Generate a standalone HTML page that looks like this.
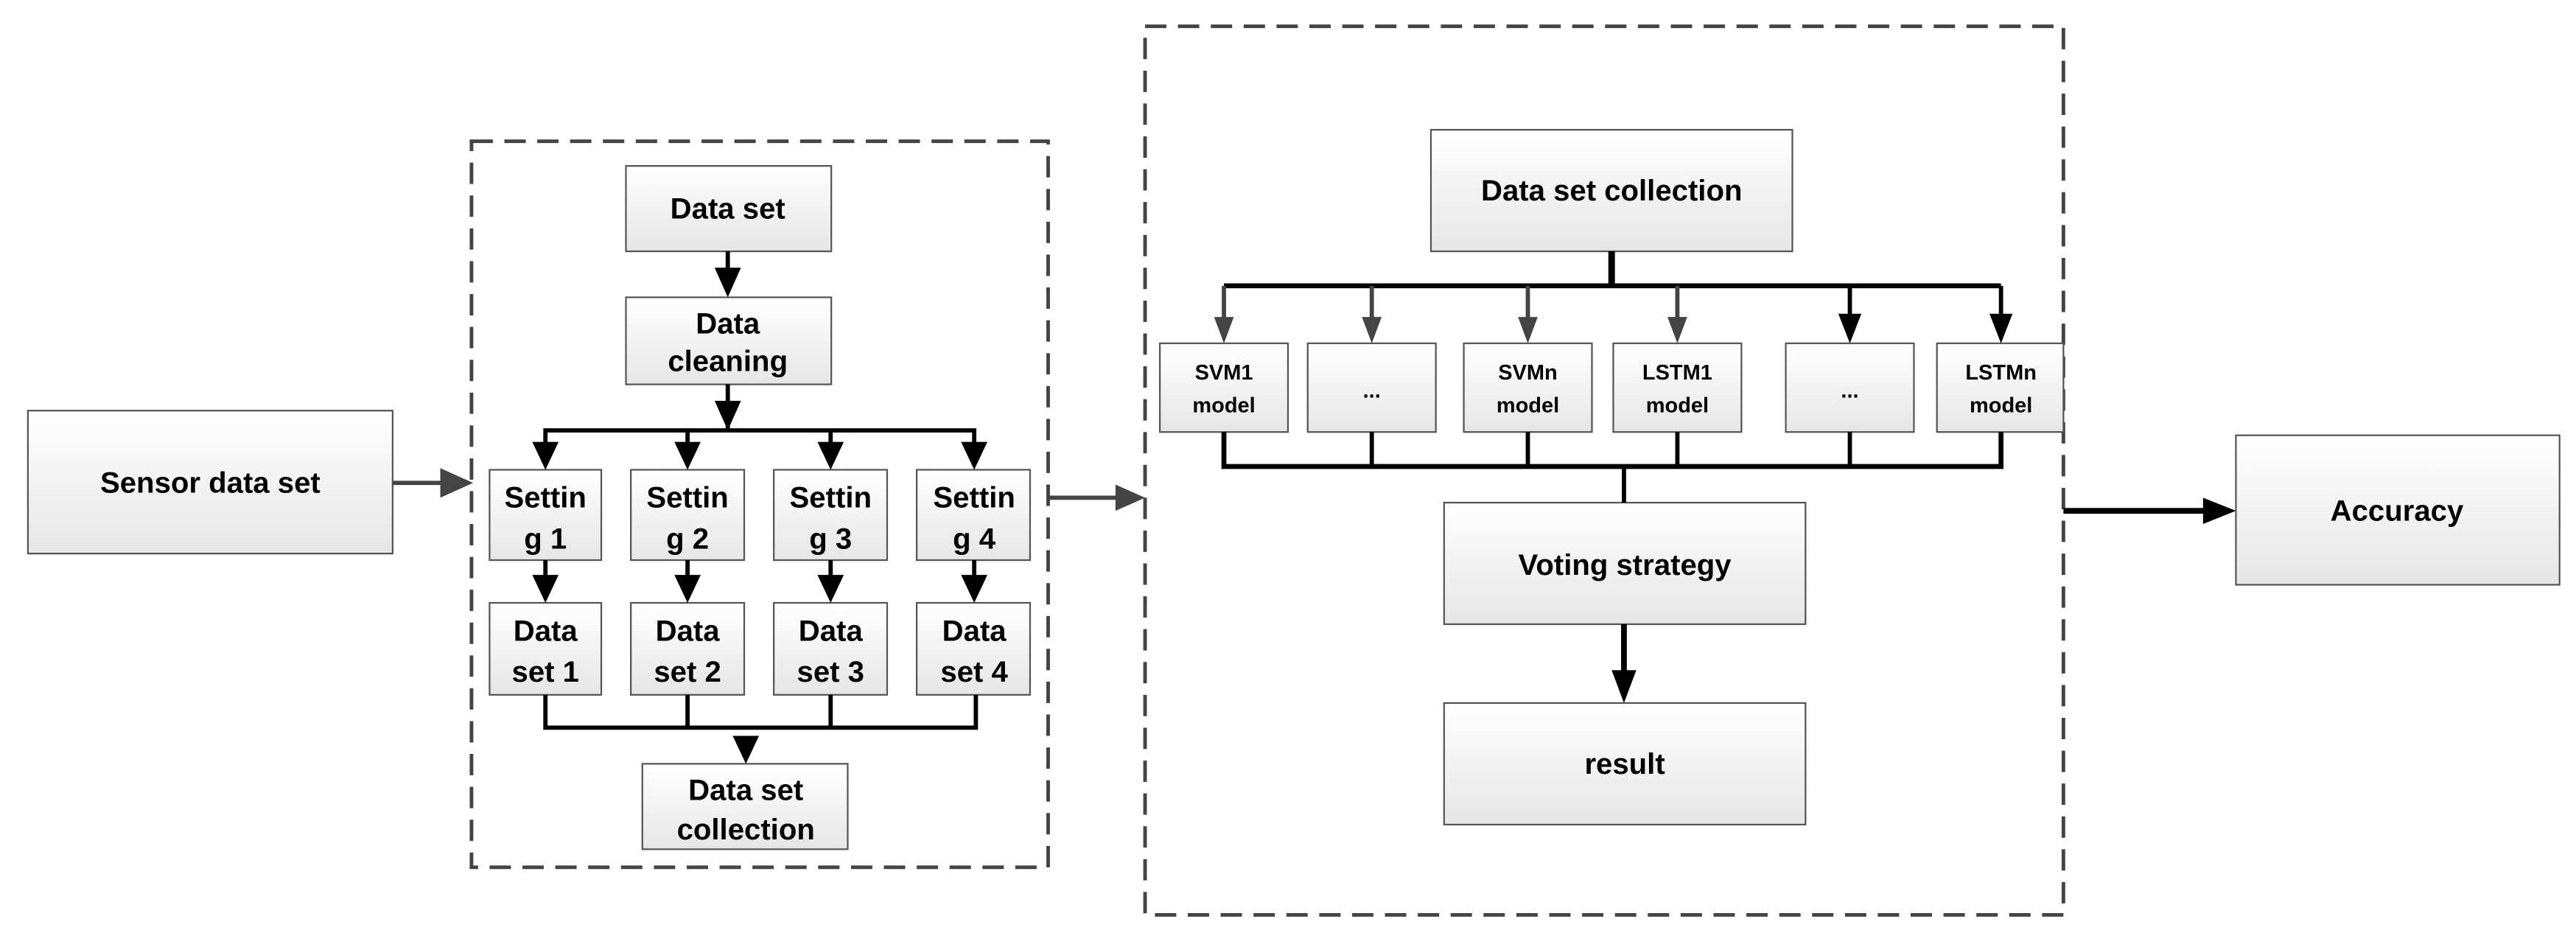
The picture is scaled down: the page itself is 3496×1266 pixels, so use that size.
<!DOCTYPE html>
<html><head><meta charset="utf-8"><style>
html,body{margin:0;padding:0;background:#fff;}
svg{display:block;}
text{font-family:"Liberation Sans Narrow","Liberation Sans",sans-serif;font-weight:bold;fill:#000;text-anchor:middle;}
</style></head><body>
<svg width="3496" height="1266" viewBox="0 0 1568 568" preserveAspectRatio="none" xmlns="http://www.w3.org/2000/svg">
<defs>
<linearGradient id="g" x1="0" y1="0" x2="0" y2="1"><stop offset="0" stop-color="#ffffff"/><stop offset="1" stop-color="#e6e6e6"/></linearGradient>
</defs>
<g fill="none" stroke="#444" stroke-width="2.2" stroke-dasharray="13,7">
<rect x="287" y="86" width="351" height="442"/>
<rect x="697" y="16" width="559" height="541"/>
</g>
<g fill="url(#g)" stroke="#555" stroke-width="1">
<rect x="17" y="250" width="222" height="87"/>
<rect x="381" y="101" width="125" height="52"/>
<rect x="381" y="181" width="125" height="53"/>
<rect x="298" y="286" width="68" height="55"/>
<rect x="384" y="286" width="69" height="55"/>
<rect x="471" y="286" width="69" height="55"/>
<rect x="558" y="286" width="69" height="55"/>
<rect x="298" y="367" width="68" height="56"/>
<rect x="384" y="367" width="69" height="56"/>
<rect x="471" y="367" width="69" height="56"/>
<rect x="558" y="367" width="69" height="56"/>
<rect x="391" y="465" width="125" height="52"/>
<rect x="871" y="79" width="220" height="74"/>
<rect x="706" y="209" width="78" height="54"/>
<rect x="796" y="209" width="78" height="54"/>
<rect x="891" y="209" width="78" height="54"/>
<rect x="982" y="209" width="78" height="54"/>
<rect x="1087" y="209" width="78" height="54"/>
<rect x="1179" y="209" width="77" height="54"/>
<rect x="879" y="306" width="220" height="74"/>
<rect x="879" y="428" width="220" height="74"/>
<rect x="1361" y="265" width="197" height="91"/>
</g>
<g stroke="#000" stroke-width="2.6" fill="none">
<line x1="443" y1="153" x2="443" y2="168"/>
<line x1="443" y1="234" x2="443" y2="262"/>
<polyline points="332,276 332,262 593,262 593,276"/>
<line x1="418.5" y1="262" x2="418.5" y2="274"/>
<line x1="505.6" y1="262" x2="505.6" y2="274"/>
<line x1="332" y1="341" x2="332" y2="354"/>
<line x1="418.5" y1="341" x2="418.5" y2="354"/>
<line x1="505.6" y1="341" x2="505.6" y2="354"/>
<line x1="593" y1="341" x2="593" y2="354"/>
<polyline points="332,423 332,443 594,443 594,423"/>
<line x1="418.5" y1="423" x2="418.5" y2="443"/>
<line x1="505.6" y1="423" x2="505.6" y2="443"/>
<line x1="981" y1="153" x2="981" y2="174" stroke-width="4"/>
<line x1="745" y1="174" x2="1218" y2="174" stroke-width="3"/>
<line x1="1126" y1="174" x2="1126" y2="194"/>
<line x1="1218" y1="174" x2="1218" y2="194"/>
<polyline points="745,263 745,284 1218,284 1218,263" stroke-width="3"/>
<line x1="835" y1="263" x2="835" y2="284"/>
<line x1="930" y1="263" x2="930" y2="284"/>
<line x1="1021" y1="263" x2="1021" y2="284"/>
<line x1="1126" y1="263" x2="1126" y2="284"/>
<line x1="988.5" y1="284" x2="988.5" y2="306"/>
<line x1="988.5" y1="380" x2="988.5" y2="410" stroke-width="3.5"/>
<line x1="1256" y1="311" x2="1345" y2="311" stroke-width="3.5"/>
</g>
<g stroke="#444" stroke-width="2.6" fill="none">
<line x1="239" y1="294" x2="272" y2="294"/>
<line x1="638" y1="303" x2="683" y2="303"/>
<line x1="745" y1="174" x2="745" y2="196"/>
<line x1="835" y1="174" x2="835" y2="196"/>
<line x1="930" y1="174" x2="930" y2="196"/>
<line x1="1021" y1="174" x2="1021" y2="196"/>
</g>
<g fill="#000">
<polygon points="435,163 443,181 451,163"/>
<polygon points="435,244 443,262 451,244"/>
<polygon points="324,269 332,286 340,269"/>
<polygon points="410.5,269 418.5,286 426.5,269"/>
<polygon points="497.6,269 505.6,286 513.6,269"/>
<polygon points="585,269 593,286 601,269"/>
<polygon points="324,350 332,367 340,350"/>
<polygon points="410.5,350 418.5,367 426.5,350"/>
<polygon points="497.6,350 505.6,367 513.6,350"/>
<polygon points="585,350 593,367 601,350"/>
<polygon points="446,448 454,465 462,448"/>
<polygon points="1119,191 1126,209 1133,191"/>
<polygon points="1211,191 1218,209 1225,191"/>
<polygon points="981,408 988.5,428 996,408"/>
<polygon points="1341,303 1361,311 1341,319"/>
</g>
<g fill="#444">
<polygon points="268,285 288,294 268,303"/>
<polygon points="679,295 697,303 679,311"/>
<polygon points="739,193 745,209 751,193"/>
<polygon points="829,193 835,209 841,193"/>
<polygon points="924,193 930,209 936,193"/>
<polygon points="1015,193 1021,209 1027,193"/>
</g>
<g font-size="18">
<text x="128" y="300">Sensor data set</text>
<text x="443" y="133">Data set</text>
<text x="443" y="203">Data</text>
<text x="443" y="226">cleaning</text>
<text x="332" y="309">Settin</text><text x="332" y="334">g 1</text>
<text x="418.5" y="309">Settin</text><text x="418.5" y="334">g 2</text>
<text x="505.6" y="309">Settin</text><text x="505.6" y="334">g 3</text>
<text x="593" y="309">Settin</text><text x="593" y="334">g 4</text>
<text x="332" y="390">Data</text><text x="332" y="415">set 1</text>
<text x="418.5" y="390">Data</text><text x="418.5" y="415">set 2</text>
<text x="505.6" y="390">Data</text><text x="505.6" y="415">set 3</text>
<text x="593" y="390">Data</text><text x="593" y="415">set 4</text>
<text x="454" y="487">Data set</text>
<text x="454" y="511">collection</text>
<text x="981" y="122">Data set collection</text>
<text x="989" y="350">Voting strategy</text>
<text x="989" y="471">result</text>
<text x="1459" y="317">Accuracy</text>
</g>
<g font-size="13">
<text x="745" y="231">SVM1</text><text x="745" y="251">model</text>
<text x="835" y="242">...</text>
<text x="930" y="231">SVMn</text><text x="930" y="251">model</text>
<text x="1021" y="231">LSTM1</text><text x="1021" y="251">model</text>
<text x="1126" y="242">...</text>
<text x="1218" y="231">LSTMn</text><text x="1218" y="251">model</text>
</g>
</svg>
</body></html>
